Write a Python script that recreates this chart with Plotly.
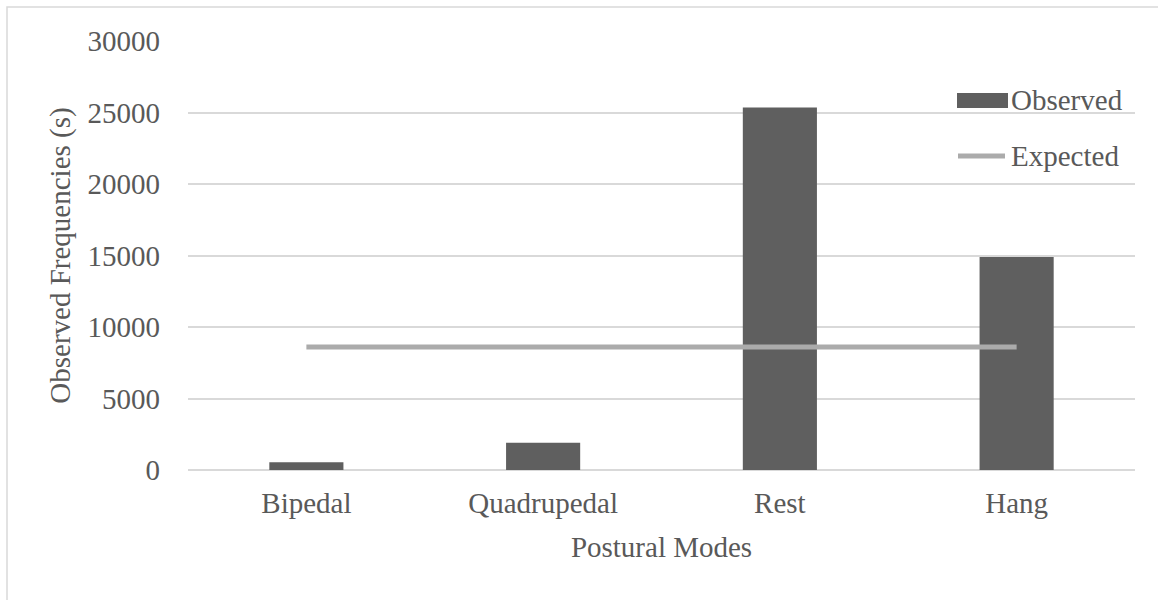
import plotly.graph_objects as go

# Postural mode durations (seconds)
modes = ["Bipedal", "Quadrupedal", "Rest", "Hang"]
observed = [550, 1900, 25350, 14900]
expected = [8600, 8600, 8600, 8600]

y_ticks = [0, 5000, 10000, 15000, 20000, 25000, 30000]

BAR_COLOR = "#5f5f5f"
LINE_COLOR = "#ababab"
TEXT_COLOR = "#595959"
GRID_COLOR = "#d9d9d9"
FONT = "Liberation Serif, Times New Roman, serif"
FS = 29

W, H = 1158, 600
ML, MR, MT, MB = 188, 23, 41, 130
PW, PH = W - ML - MR, H - MT - MB


def px_x(x):
    return (x - ML) / PW


def px_y(y):
    return (H - MB - y) / PH


fig = go.Figure()
fig.add_trace(go.Bar(
    x=modes, y=observed, name="Observed",
    marker=dict(color=BAR_COLOR, line=dict(width=0)),
    showlegend=False,
))
fig.add_trace(go.Scatter(
    x=modes, y=expected, name="Expected", mode="lines",
    line=dict(color=LINE_COLOR, width=5),
    showlegend=False,
))

shapes = [
    # outer chart frame (extends past the right and bottom edges)
    dict(type="rect", xref="paper", yref="paper",
         x0=px_x(7), x1=px_x(1175), y0=px_y(7), y1=px_y(620),
         line=dict(color=GRID_COLOR, width=1.5), fillcolor="rgba(0,0,0,0)",
         layer="below"),
    # legend swatches
    dict(type="rect", xref="paper", yref="paper",
         x0=px_x(957), x1=px_x(1008), y0=px_y(108), y1=px_y(93),
         line=dict(width=0), fillcolor=BAR_COLOR),
    dict(type="line", xref="paper", yref="paper",
         x0=px_x(958), x1=px_x(1005), y0=px_y(156), y1=px_y(156),
         line=dict(color=LINE_COLOR, width=5)),
]

annotations = [
    dict(text="Observed", xref="paper", yref="paper",
         x=px_x(1009), y=px_y(100), xanchor="left", yanchor="middle",
         showarrow=False, font=dict(family=FONT, size=FS, color=TEXT_COLOR)),
    dict(text="Expected", xref="paper", yref="paper",
         x=px_x(1009), y=px_y(156), xanchor="left", yanchor="middle",
         showarrow=False, font=dict(family=FONT, size=FS, color=TEXT_COLOR)),
]

fig.update_layout(
    width=W, height=H,
    margin=dict(l=ML, r=MR, t=MT, b=MB),
    paper_bgcolor="white", plot_bgcolor="white",
    font=dict(family=FONT, size=FS, color=TEXT_COLOR),
    bargap=0.687,
    shapes=shapes,
    annotations=annotations,
    xaxis=dict(
        showgrid=False, showline=False, zeroline=False,
        ticks="", ticklabelstandoff=13,
        tickfont=dict(family=FONT, size=FS, color=TEXT_COLOR),
        title=dict(text="Postural Modes", standoff=18,
                   font=dict(family=FONT, size=FS, color=TEXT_COLOR)),
    ),
    yaxis=dict(
        range=[0, 30000], tickvals=y_ticks, tickformat="d",
        showgrid=True, gridcolor=GRID_COLOR, gridwidth=1.5,
        zeroline=True, zerolinecolor=GRID_COLOR, zerolinewidth=1.5,
        showline=False, ticks="", ticklabelstandoff=27,
        tickfont=dict(family=FONT, size=FS, color=TEXT_COLOR),
        title=dict(text="Observed Frequencies (s)", standoff=8,
                   font=dict(family=FONT, size=FS, color=TEXT_COLOR)),
    ),
)

fig.write_html("out.html")
